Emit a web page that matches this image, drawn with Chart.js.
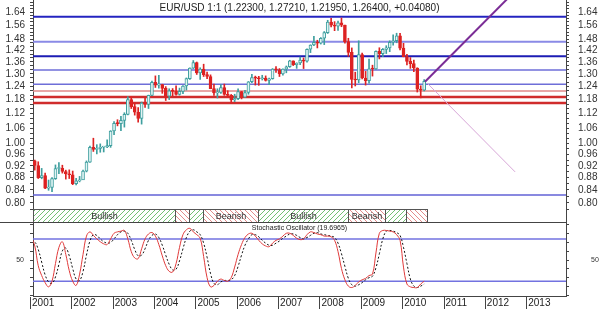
<!DOCTYPE html>
<html>
<head>
<meta charset="utf-8">
<script src="https://cdn.jsdelivr.net/npm/chart.js@4.4.1/dist/chart.umd.min.js"></script>
<style>
  html, body { margin: 0; padding: 0; background: #fff; }
  #wrap { position: relative; width: 600px; height: 309px; }
</style>
</head>
<body>
<div id="wrap"><canvas id="myChart"></canvas></div>
<script>
// EUR/USD monthly candles, Jan 2001 .. Jul 2010
const firstYear = 2001;

const opens = [
  0.9420, 0.9372, 0.9210, 0.8795, 0.8866, 0.8458, 0.8484, 0.8764, 0.9105, 0.9114, 0.9005, 0.8921,
  0.8896, 0.8605, 0.8694, 0.8722, 0.9016, 0.9330, 0.9864, 0.9780, 0.9822, 0.9870, 0.9880, 0.9925,
  1.0487, 1.0795, 1.0780, 1.0910, 1.1160, 1.1800, 1.1490, 1.1250, 1.0990, 1.1650, 1.1590, 1.1990,
  1.2590, 1.2460, 1.2480, 1.2310, 1.1950, 1.2200, 1.2170, 1.2030, 1.2170, 1.2420, 1.2770, 1.3280,
  1.3560, 1.3040, 1.3240, 1.2960, 1.2870, 1.2300, 1.2100, 1.2120, 1.2340, 1.2030, 1.1990, 1.1790,
  1.1840, 1.2160, 1.1910, 1.2120, 1.2620, 1.2820, 1.2790, 1.2760, 1.2800, 1.2680, 1.2760, 1.3240,
  1.3200, 1.3000, 1.3230, 1.3350, 1.3650, 1.3450, 1.3540, 1.3690, 1.3640, 1.4260, 1.4490, 1.4630,
  1.4590, 1.4860, 1.5180, 1.5790, 1.5610, 1.5550, 1.5750, 1.5610, 1.4670, 1.4090, 1.2730, 1.2700,
  1.3970, 1.2800, 1.2670, 1.3250, 1.3240, 1.4150, 1.4030, 1.4250, 1.4330, 1.4640, 1.4720, 1.4990,
  1.4320, 1.3870, 1.3620, 1.3510, 1.3290, 1.2270, 1.2230
];
const highs = [
  0.9595, 0.9400, 0.9340, 0.9110, 0.8950, 0.8720, 0.8800, 0.9230, 0.9310, 0.9220, 0.9050, 0.9060,
  0.9020, 0.8780, 0.8840, 0.9050, 0.9370, 0.9910, 1.0205, 0.9960, 0.9990, 0.9900, 1.0140, 1.0500,
  1.0860, 1.0940, 1.1080, 1.1230, 1.1930, 1.1930, 1.1640, 1.1450, 1.1690, 1.1860, 1.2000, 1.2650,
  1.2900, 1.2930, 1.2500, 1.2390, 1.2290, 1.2300, 1.2430, 1.2320, 1.2440, 1.2800, 1.3300, 1.3667,
  1.3590, 1.3300, 1.3480, 1.3090, 1.2950, 1.2510, 1.2290, 1.2480, 1.2510, 1.2200, 1.2030, 1.2040,
  1.2290, 1.2170, 1.2220, 1.2630, 1.2980, 1.2890, 1.2880, 1.2930, 1.2900, 1.2790, 1.3260, 1.3360,
  1.3260, 1.3250, 1.3390, 1.3680, 1.3650, 1.3550, 1.3850, 1.3800, 1.4280, 1.4500, 1.4970, 1.4750,
  1.4900, 1.5240, 1.5900, 1.6020, 1.5820, 1.5850, 1.6038, 1.5610, 1.4860, 1.4330, 1.3080, 1.4720,
  1.4050, 1.3120, 1.3740, 1.3430, 1.4170, 1.4340, 1.4300, 1.4450, 1.4720, 1.5060, 1.5145, 1.5140,
  1.4580, 1.3990, 1.3820, 1.3690, 1.3300, 1.2430, 1.2721
];
const lows = [
  0.9170, 0.9050, 0.8770, 0.8760, 0.8440, 0.8390, 0.8344, 0.8740, 0.8930, 0.8950, 0.8750, 0.8770,
  0.8570, 0.8560, 0.8660, 0.8730, 0.8990, 0.9320, 0.9710, 0.9620, 0.9680, 0.9690, 0.9850, 0.9860,
  1.0340, 1.0690, 1.0500, 1.0640, 1.1140, 1.1410, 1.1130, 1.0840, 1.0760, 1.1460, 1.1410, 1.1970,
  1.2350, 1.2320, 1.2080, 1.1760, 1.1800, 1.1970, 1.2000, 1.2000, 1.2070, 1.2230, 1.2730, 1.3260,
  1.2970, 1.2730, 1.2870, 1.2760, 1.2290, 1.1990, 1.1870, 1.2080, 1.1990, 1.1910, 1.1640, 1.1710,
  1.1800, 1.1830, 1.1900, 1.2040, 1.2570, 1.2460, 1.2450, 1.2700, 1.2650, 1.2480, 1.2740, 1.3070,
  1.2870, 1.2930, 1.3050, 1.3320, 1.3410, 1.3270, 1.3450, 1.3260, 1.3580, 1.4080, 1.4450, 1.4330,
  1.4540, 1.4510, 1.5130, 1.5510, 1.5290, 1.5300, 1.5520, 1.4590, 1.3880, 1.2330, 1.2420, 1.2570,
  1.2750, 1.2460, 1.2550, 1.2890, 1.3220, 1.3750, 1.3870, 1.4030, 1.4130, 1.4480, 1.4610, 1.4220,
  1.3860, 1.3440, 1.3270, 1.3110, 1.2140, 1.1876, 1.2195
];
const closes = [
  0.9372, 0.9210, 0.8795, 0.8866, 0.8458, 0.8484, 0.8764, 0.9105, 0.9114, 0.9005, 0.8921, 0.8896,
  0.8605, 0.8694, 0.8722, 0.9016, 0.9330, 0.9864, 0.9780, 0.9822, 0.9870, 0.9880, 0.9925, 1.0487,
  1.0795, 1.0780, 1.0910, 1.1160, 1.1800, 1.1490, 1.1250, 1.0990, 1.1650, 1.1590, 1.1990, 1.2590,
  1.2460, 1.2480, 1.2310, 1.1950, 1.2200, 1.2170, 1.2030, 1.2170, 1.2420, 1.2770, 1.3280, 1.3560,
  1.3040, 1.3240, 1.2960, 1.2870, 1.2300, 1.2100, 1.2120, 1.2340, 1.2030, 1.1990, 1.1790, 1.1840,
  1.2160, 1.1910, 1.2120, 1.2620, 1.2820, 1.2790, 1.2760, 1.2800, 1.2680, 1.2760, 1.3240, 1.3200,
  1.3000, 1.3230, 1.3350, 1.3650, 1.3450, 1.3540, 1.3690, 1.3640, 1.4260, 1.4490, 1.4630, 1.4590,
  1.4860, 1.5180, 1.5790, 1.5610, 1.5550, 1.5750, 1.5610, 1.4670, 1.4090, 1.2730, 1.2700, 1.3970,
  1.2800, 1.2670, 1.3250, 1.3240, 1.4150, 1.4030, 1.4250, 1.4330, 1.4640, 1.4720, 1.4990, 1.4320,
  1.3870, 1.3620, 1.3510, 1.3290, 1.2270, 1.2230, 1.2640
];

// stochastic oscillator (%K red, %D dashed)
const stochK = [
  83, 70, 42, 28, 18, 12, 20, 45, 68, 76, 58, 35,
  20, 14, 30, 58, 84, 90, 85, 80, 76, 73, 72, 80,
  88, 90, 91, 92, 80, 62, 53, 52, 66, 80, 87, 89,
  84, 72, 56, 42, 34, 33, 45, 68, 86, 93, 95, 90,
  86, 81, 55, 25, 12, 14, 20, 23, 21, 20, 25, 40,
  58, 72, 82, 87, 88, 84, 78, 73, 70, 69, 74, 78,
  80, 84, 88, 88, 85, 81, 79, 80, 86, 90, 89, 87,
  86, 84, 84, 83, 78, 62, 38, 22, 13, 11, 14, 19,
  22, 24, 28, 30, 60, 88, 92, 92, 91, 90, 86, 78,
  40, 16, 12, 11, 11, 16, 20
];
const stochD = [
  65, 75, 65, 47, 29, 19, 17, 26, 44, 63, 67, 56,
  38, 23, 21, 34, 57, 77, 86, 85, 80, 76, 74, 75,
  80, 86, 90, 91, 88, 78, 65, 56, 57, 66, 78, 85,
  87, 82, 71, 57, 44, 36, 37, 49, 66, 82, 91, 93,
  90, 86, 74, 54, 31, 17, 15, 19, 21, 21, 22, 28,
  41, 57, 71, 80, 86, 86, 83, 78, 74, 71, 71, 74,
  77, 81, 84, 87, 87, 85, 82, 80, 82, 85, 88, 89,
  87, 86, 85, 84, 82, 74, 59, 41, 24, 15, 13, 15,
  18, 22, 25, 27, 39, 59, 80, 91, 92, 91, 89, 85,
  68, 45, 23, 13, 11, 13, 16
];

const priceLevels = [1.6110, 1.4670, 1.3885, 1.3190, 1.2500, 1.2190, 1.1915, 1.1650, 0.8240];
const stochLevels = [80, 20];

// trend lines as [year, price]
const trendUp = [[2010.54, 1.262], [2012.60, 1.742]];
const trendDown = [[2010.59, 1.256], [2012.72, 0.899]];

const bandEdges = [2001.06, 2004.50, 2004.83, 2005.17, 2006.50, 2008.67, 2009.58, 2010.08, 2010.59];
const bandNames = ["Bullish", "Bearish", "Bullish", "Bearish", "Bullish", "Bearish", "Bullish", "Bearish"];

const priceTicks = [0.80, 0.84, 0.88, 0.92, 0.96, 1.00, 1.06, 1.12, 1.18, 1.24, 1.30, 1.36, 1.42, 1.48, 1.56, 1.64];
const yearTicks = [2001, 2002, 2003, 2004, 2005, 2006, 2007, 2008, 2009, 2010, 2011, 2012, 2013];

const titleText = "EUR/USD 1:1 (1.22300, 1.27210, 1.21950, 1.26400, +0.04080)";
const stochTitle = "Stochastic Oscillator (19.6965)";

// ---- layout / style
const xMin = 2001.06, xMax = 2013.95;
const yMin = 0.782, yMax = 1.716;
const fam = "'Liberation Sans', Arial, sans-serif";
const axisCol = "#444";
const upCol = "#3f9f9f", upFill = "#e2f4f4", downCol = "#dd2222";

const monthX = i => firstYear + i / 12 + 0.02;
const isUp = i => closes[i] >= opens[i];

const levelStyle = [
  { c: "#2424c0", w: 2 }, { c: "#8a8ae6", w: 2 }, { c: "#1c1cb4", w: 2 },
  { c: "#6e6ed8", w: 1.5 }, { c: "#6e6ed8", w: 1.5 }, { c: "#e08888", w: 1.5 },
  { c: "#d02c2c", w: 2.5 }, { c: "#d02c2c", w: 2.5 }, { c: "#6262d6", w: 1.5 }
];

const datasets = [];

datasets.push({
  type: "line", order: -1, yAxisID: "y",
  data: trendUp.map(p => ({ x: p[0], y: p[1] })),
  borderColor: "#7b2d96", borderWidth: 2, pointRadius: 0
});
datasets.push({
  type: "line", order: -1, yAxisID: "y",
  data: trendDown.map(p => ({ x: p[0], y: p[1] })),
  borderColor: "#d7a6d7", borderWidth: 1, pointRadius: 0
});

datasets.push({
  type: "bar", order: 0, yAxisID: "y", grouped: false,
  data: closes.map((c, i) => ({ x: monthX(i), y: [opens[i], c] })),
  barThickness: 3, minBarLength: 1, borderWidth: 1, borderSkipped: false,
  backgroundColor: ctx => isUp(ctx.dataIndex) ? upFill : downCol,
  borderColor: ctx => isUp(ctx.dataIndex) ? upCol : downCol
});
datasets.push({
  type: "bar", order: 1, yAxisID: "y", grouped: false,
  data: closes.map((c, i) => ({ x: monthX(i), y: [lows[i], highs[i]] })),
  barThickness: 1, borderWidth: 0,
  backgroundColor: ctx => isUp(ctx.dataIndex) ? upCol : downCol
});

priceLevels.forEach((v, k) => {
  datasets.push({
    type: "line", order: 5, yAxisID: "y",
    data: [{ x: xMin, y: v }, { x: xMax, y: v }],
    borderColor: levelStyle[k].c, borderWidth: levelStyle[k].w, pointRadius: 0
  });
});

datasets.push({
  type: "line", order: 0, yAxisID: "ys",
  data: stochK.map((v, i) => ({ x: monthX(i), y: v })),
  borderColor: "#e03a3a", borderWidth: 1, pointRadius: 0, tension: 0.4
});
datasets.push({
  type: "line", order: 1, yAxisID: "ys",
  data: stochD.map((v, i) => ({ x: monthX(i), y: v })),
  borderColor: "#111", borderWidth: 1, borderDash: [2, 2], pointRadius: 0, tension: 0.4
});
stochLevels.forEach(v => {
  datasets.push({
    type: "line", order: 5, yAxisID: "ys",
    data: [{ x: xMin, y: v }, { x: xMax, y: v }],
    borderColor: "#7272e0", borderWidth: 1.5, pointRadius: 0
  });
});

// ---- axes helpers
const fixW = w => s => { s.width = w; s.paddingTop = 0; s.paddingBottom = 0; };
const priceTickList = [];
for (let v = 78; v <= 170; v += 2) priceTickList.push(v / 100);
const priceLabel = v => priceTicks.some(p => Math.abs(p - v) < 1e-6) ? v.toFixed(2) : "";
const setPriceTicks = s => { s.ticks = priceTickList.map(v => ({ value: v })); };
const stochTickList = [0, 12.5, 25, 37.5, 50, 62.5, 75, 87.5, 100];
const setStochTicks = s => { s.ticks = stochTickList.map(v => ({ value: v })); };

const yGrid = { drawOnChartArea: false, drawTicks: true, tickLength: 3, color: axisCol };
const yBorder = { display: true, color: axisCol, width: 1 };

const scales = {
  x: {
    type: "linear", position: "bottom", min: xMin, max: xMax, bounds: "data", offset: false,
    afterBuildTicks: s => { s.ticks = yearTicks.map(v => ({ value: v })); },
    afterFit: s => { s.height = 13; s.paddingLeft = 0; s.paddingRight = 0; },
    grid: { drawOnChartArea: false, drawTicks: true, tickLength: 13, color: axisCol, offset: false },
    border: yBorder,
    ticks: { align: "start", padding: -12, labelOffset: 1.5, autoSkip: false, maxRotation: 0,
             font: { family: fam, size: 10 }, color: "#222", callback: v => String(v) }
  },
  y: {
    type: "logarithmic", position: "left", stack: "p", stackWeight: 209, weight: 3,
    min: yMin, max: yMax, bounds: "data",
    afterBuildTicks: setPriceTicks, afterFit: fixW(33),
    grid: yGrid, border: yBorder,
    ticks: { padding: 5, autoSkip: false, font: { family: fam, size: 10 }, color: "#333", callback: priceLabel }
  },
  yb: {
    type: "linear", position: "left", stack: "p", stackWeight: 13, weight: 2, min: 0, max: 1,
    afterFit: fixW(33), grid: { display: false }, ticks: { display: false }, border: yBorder
  },
  ys: {
    type: "linear", position: "left", stack: "p", stackWeight: 74, weight: 1, min: -1, max: 104, bounds: "data",
    afterBuildTicks: setStochTicks, afterFit: fixW(33),
    grid: yGrid, border: yBorder,
    ticks: { padding: 6, autoSkip: false, font: { family: fam, size: 7 }, color: "#333",
             callback: v => v === 50 ? "50" : "" }
  },
  y2: {
    type: "logarithmic", position: "right", stack: "p", stackWeight: 209, weight: 1,
    min: yMin, max: yMax, bounds: "data",
    afterBuildTicks: setPriceTicks, afterFit: fixW(34),
    grid: yGrid, border: yBorder,
    ticks: { padding: 9, autoSkip: false, font: { family: fam, size: 10 }, color: "#333", callback: priceLabel }
  },
  yb2: {
    type: "linear", position: "right", stack: "p", stackWeight: 13, weight: 2, min: 0, max: 1,
    afterFit: fixW(34), grid: { display: false }, ticks: { display: false }, border: yBorder
  },
  ys2: {
    type: "linear", position: "right", stack: "p", stackWeight: 74, weight: 3, min: -1, max: 104, bounds: "data",
    afterBuildTicks: setStochTicks, afterFit: fixW(34),
    grid: yGrid, border: yBorder,
    ticks: { padding: 22, autoSkip: false, font: { family: fam, size: 7 }, color: "#333",
             callback: v => v === 50 ? "50" : "" }
  }
};

// hatch patterns for the trend band
function hatch(color, forward) {
  const c = document.createElement("canvas");
  c.width = 5; c.height = 5;
  const g = c.getContext("2d");
  g.fillStyle = "#fff"; g.fillRect(0, 0, 5, 5);
  g.strokeStyle = color; g.lineWidth = 1;
  g.beginPath();
  if (forward) { g.moveTo(0, 5); g.lineTo(5, 0); g.moveTo(-1, 1); g.lineTo(1, -1); g.moveTo(4, 6); g.lineTo(6, 4); }
  else { g.moveTo(0, 0); g.lineTo(5, 5); g.moveTo(4, -1); g.lineTo(6, 1); g.moveTo(-1, 4); g.lineTo(1, 6); }
  g.stroke();
  return c;
}

const decor = {
  id: "decor",
  afterDraw(chart) {
    const ctx = chart.ctx, area = chart.chartArea;
    const xs = chart.scales.x, yb = chart.scales.yb, ys = chart.scales.ys;
    ctx.save();

    // band
    const pGreen = ctx.createPattern(hatch("#74c074", true), "repeat");
    const pRed = ctx.createPattern(hatch("#e48c8c", false), "repeat");
    const top = Math.round(yb.top) + 0.5, bot = Math.round(yb.bottom) + 0.5;
    for (let k = 0; k < bandNames.length; k++) {
      const x0 = Math.round(Math.max(xs.getPixelForValue(bandEdges[k]), area.left)) + 0.5;
      const x1 = Math.round(xs.getPixelForValue(bandEdges[k + 1])) + 0.5;
      ctx.fillStyle = bandNames[k] === "Bullish" ? pGreen : pRed;
      ctx.fillRect(x0, top, x1 - x0, bot - top);
      ctx.strokeStyle = "#555"; ctx.lineWidth = 1;
      ctx.strokeRect(x0, top, x1 - x0, bot - top);
      if (x1 - x0 > 35) {
        ctx.fillStyle = "#333";
        ctx.font = "9px " + fam;
        ctx.textAlign = "center"; ctx.textBaseline = "middle";
        ctx.fillText(bandNames[k], (x0 + x1) / 2, (top + bot) / 2 + 0.5);
      }
    }

    // divider above the oscillator
    const yd = Math.round(ys.top) + 0.5;
    ctx.strokeStyle = axisCol; ctx.lineWidth = 1;
    ctx.beginPath(); ctx.moveTo(0, yd); ctx.lineTo(area.right, yd); ctx.stroke();

    // titles
    ctx.fillStyle = "#222";
    ctx.textAlign = "center"; ctx.textBaseline = "middle";
    ctx.font = "10px " + fam;
    ctx.fillText(titleText, (area.left + area.right) / 2, 8);
    ctx.font = "7px " + fam;
    ctx.fillText(stochTitle, (area.left + area.right) / 2, ys.top + 6);
    ctx.restore();
  }
};

new Chart(document.getElementById("myChart"), {
  type: "bar",
  data: { datasets: datasets },
  options: {
    responsive: true,
    maintainAspectRatio: false,
    animation: false,
    layout: { padding: 0 },
    plugins: { legend: { display: false }, tooltip: { enabled: false } },
    scales: scales
  },
  plugins: [decor]
});
</script>
</body>
</html>
